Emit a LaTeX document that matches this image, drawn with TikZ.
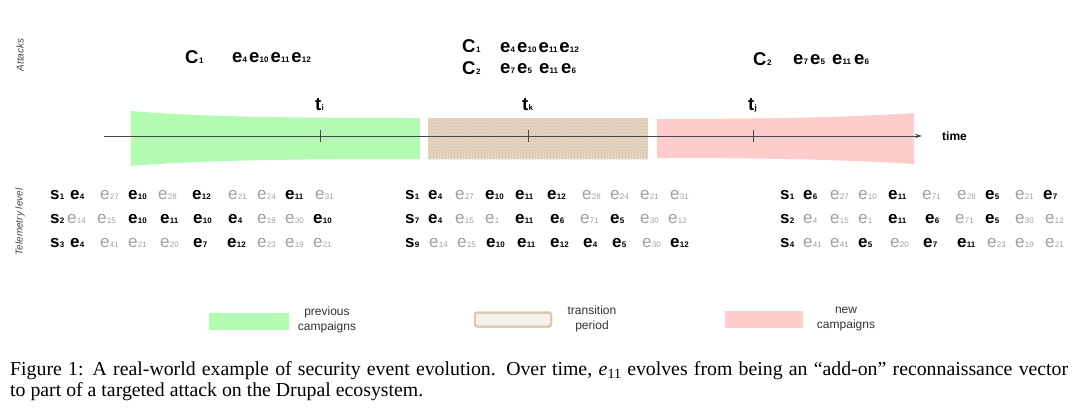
\documentclass[tikz,border=0pt]{standalone}
\usepackage{fontspec}
\setmainfont{Liberation Sans}
\newfontfamily\serifcap{Liberation Serif}
\usetikzlibrary{patterns,arrows.meta}
\definecolor{grn}{RGB}{179,251,179}
\definecolor{pnk}{RGB}{255,204,204}
\definecolor{egray}{RGB}{160,160,160}
\definecolor{trtan}{RGB}{232,210,194}
\definecolor{trdot}{RGB}{196,200,160}
\definecolor{lgtan}{RGB}{214,190,158}
\definecolor{axisc}{RGB}{70,70,70}
\newcommand\subn[1]{\raisebox{-0.8pt}{\fontsize{8}{8}\selectfont #1}}
\newcommand\Eb[1]{{\bfseries e\kern0.2pt\subn{#1}}}
\newcommand\Eg[1]{{\color{egray}e\kern0.2pt\subn{#1}}}
\newcommand\Sb[1]{{\bfseries s\kern0.2pt\subn{#1}}}
\newcommand\Cb[1]{{\bfseries C\kern0.5pt\subn{#1}}}
\newcommand\Tb[1]{{\bfseries t\kern0.2pt\subn{#1}}}
\tikzset{
  tok/.style={anchor=base west, inner sep=0pt, font=\fontsize{17}{17}\selectfont},
  atk/.style={anchor=base west, inner sep=0pt, font=\fontsize{18.5}{18}\selectfont},
  tlab/.style={anchor=base west, inner sep=0pt, font=\fontsize{18.5}{18}\selectfont},
  side/.style={rotate=90, inner sep=0pt, text=axisc, font=\itshape\fontsize{10}{10}\selectfont},
  leg/.style={inner sep=0pt, align=center, text=black!80, font=\fontsize{12}{15.5}\selectfont},
  tickline/.style={draw=axisc, line width=0.7pt},
  captext/.style={anchor=base west, inner sep=0pt, font=\serifcap\fontsize{19.8}{20}\selectfont}
}
\begin{document}
\begin{tikzpicture}[x=1pt,y=-1pt]
\useasboundingbox (0,0) rectangle (1080,413);
% side labels
\node[side] (attacks) at (20,55) {Attacks};
\node[side] (telem) at (20,222) {Telemetry level};
% bands
\fill[grn] (131,111) .. controls (200,117) and (300,118) .. (420,118)
  -- (420,159) .. controls (300,159) and (200,160) .. (131,166) -- cycle;
\fill[trtan] (428,118) rectangle (648,159);
\fill[pattern=crosshatch dots, pattern color=trdot] (428,118) rectangle (648,159);
\fill[pnk] (657,119) .. controls (780,119) and (850,117) .. (914,113)
  -- (914,164) .. controls (850,160) and (780,158) .. (657,158) -- cycle;
% axis
\coordinate (ax0) at (104,136);
\coordinate (ax1) at (922,136);
\draw[axisc, line width=0.8pt, -{Stealth[length=7pt,width=4.5pt]}] (ax0) -- (ax1);
\node[anchor=base west, inner sep=0pt, font=\bfseries\fontsize{12}{12}\selectfont] (time) at (942,140) {time};
\coordinate (ti) at (320,136);
\coordinate (tk) at (528,136);
\coordinate (tj) at (753,136);
\foreach \c in {ti,tk,tj} {\draw[tickline] ([yshift=-6pt]\c) -- ([yshift=6pt]\c);}
\node[tlab] (lti) at (315,110) {\Tb{i}};
\node[tlab] (ltk) at (522,110) {\Tb{k}};
\node[tlab] (ltj) at (748,110) {\Tb{j}};
% attacks
\node[atk] (a1c) at (185,63) {\Cb{1}};
\node[atk] (a1e) at (232,62) {\Eb{4}\kern2pt\Eb{10}\kern2pt\Eb{11}\kern2pt\Eb{12}};
\node[atk] (a2c) at (462,52) {\Cb{1}};
\node[atk] (a2e) at (500,52) {\Eb{4}\kern2pt\Eb{10}\kern2pt\Eb{11}\kern2pt\Eb{12}};
\node[atk] (a3c) at (462,74) {\Cb{2}};
\node[atk] (a3e) at (500,73) {\Eb{7}\kern2pt\Eb{5}\kern7pt\Eb{11}\kern3pt\Eb{6}};
\node[atk] (a4c) at (753,65) {\Cb{2}};
\node[atk] (a4e) at (793,64) {\Eb{7}\kern2pt\Eb{5}\kern7pt\Eb{11}\kern3pt\Eb{6}};
% telemetry left
\foreach \x/\t [count=\i] in {50/\Sb{1},70/\Eb{4},100/\Eg{27},128/\Eb{10},158/\Eg{28},192/\Eb{12},228/\Eg{21},257/\Eg{24},285/\Eb{11},315/\Eg{31}}
  {\node[tok] (l1-\i) at (\x,199) {\t};}
\foreach \x/\t [count=\i] in {50/\Sb{2},67/\Eg{14},97/\Eg{15},128/\Eb{10},160/\Eb{11},193/\Eb{10},228/\Eb{4},257/\Eg{19},285/\Eg{30},313/\Eb{10}}
  {\node[tok] (l2-\i) at (\x,223) {\t};}
\foreach \x/\t [count=\i] in {50/\Sb{3},70/\Eb{4},100/\Eg{41},128/\Eg{21},160/\Eg{20},193/\Eb{7},227/\Eb{12},257/\Eg{23},285/\Eg{19},313/\Eg{21}}
  {\node[tok] (l3-\i) at (\x,247) {\t};}
% telemetry middle
\foreach \x/\t [count=\i] in {405/\Sb{1},428/\Eb{4},455/\Eg{27},485/\Eb{10},515/\Eb{11},547/\Eb{12},582/\Eg{28},610/\Eg{24},640/\Eg{21},670/\Eg{31}}
  {\node[tok] (m1-\i) at (\x,199) {\t};}
\foreach \x/\t [count=\i] in {405/\Sb{7},428/\Eb{4},455/\Eg{15},485/\Eg{1},515/\Eb{11},550/\Eb{6},580/\Eg{71},610/\Eb{5},640/\Eg{30},668/\Eg{12}}
  {\node[tok] (m2-\i) at (\x,223) {\t};}
\foreach \x/\t [count=\i] in {405/\Sb{9},429/\Eg{14},457/\Eg{15},486/\Eb{10},517/\Eb{11},550/\Eb{12},583/\Eb{4},612/\Eb{5},642/\Eg{30},670/\Eb{12}}
  {\node[tok] (m3-\i) at (\x,247) {\t};}
% telemetry right
\foreach \x/\t [count=\i] in {780/\Sb{1},803/\Eb{6},830/\Eg{27},858/\Eg{10},888/\Eb{11},922/\Eg{71},957/\Eg{28},985/\Eb{5},1015/\Eg{21},1043/\Eb{7}}
  {\node[tok] (r1-\i) at (\x,199) {\t};}
\foreach \x/\t [count=\i] in {780/\Sb{2},803/\Eg{4},830/\Eg{15},858/\Eg{1},888/\Eb{11},925/\Eb{6},955/\Eg{71},985/\Eb{5},1015/\Eg{30},1045/\Eg{12}}
  {\node[tok] (r2-\i) at (\x,223) {\t};}
\foreach \x/\t [count=\i] in {780/\Sb{4},803/\Eg{41},830/\Eg{41},858/\Eb{5},890/\Eg{20},923/\Eb{7},957/\Eb{11},987/\Eg{23},1015/\Eg{19},1045/\Eg{21}}
  {\node[tok] (r3-\i) at (\x,247) {\t};}
% legend
\fill[grn] (209,313) rectangle (289,330);
\node[leg] (lg1) at (327,320) {previous\\campaigns};
\draw[lgtan!80, line width=2.5pt, rounded corners=2pt, fill=lgtan!22] (475,312.5) rectangle (551,326.5);
\node[leg] (lg2) at (592,319) {transition\\period};
\fill[pnk] (725,311) rectangle (803,328);
\node[leg] (lg3) at (846,319) {new\\campaigns};
% caption
\node[captext] (cap1) at (10,375) {\makebox[1058pt][s]{Figure 1: A real-world example of security event evolution. Over time, {\itshape e}\raisebox{-3pt}{\fontsize{14}{14}\selectfont 11} evolves from being an “add-on” reconnaissance vector}};
\node[captext] (cap2) at (10,396) {to part of a targeted attack on the Drupal ecosystem.};
\end{tikzpicture}
\end{document}
